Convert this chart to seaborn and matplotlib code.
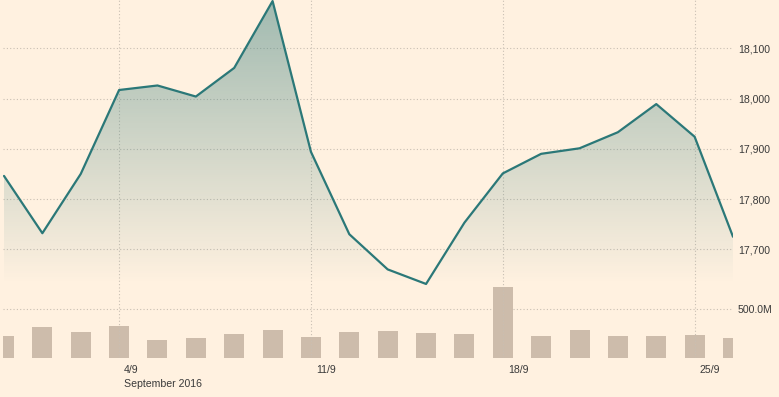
import numpy as np
import matplotlib
matplotlib.use("Agg")
import matplotlib.pyplot as plt
import seaborn as sns
from matplotlib.transforms import ScaledTranslation
from matplotlib.ticker import FixedLocator, FixedFormatter

# ---- data ----
days = list(range(20))
price = [17846, 17732, 17850, 18017, 18026, 18004, 18061, 18194, 17894, 17730,
         17660, 17631, 17753, 17851, 17890, 17901, 17933, 17989, 17924, 17725]
volume_m = [224, 317, 266, 327, 183, 204, 245, 286, 214, 266,
            276, 255, 245, 730, 224, 286, 224, 224, 234, 204]
tick_pos = [3, 8, 13, 18]
tick_labels = ["4/9", "11/9", "18/9", "25/9"]
month_label = "September 2016"
price_ticks = [17700, 17800, 17900, 18000, 18100]
vol_ticks = [500]
vol_tick_labels = ["500.0M"]

# ---- style ----
BG = "#fff1e0"
LINE = "#2b7878"
BAR = "#cdbcab"
GRID = "#c9bfb3"
TEXT = "#3a3a3a"

sns.set_style("white")
plt.rcParams["font.family"] = ["Liberation Sans", "DejaVu Sans"]
plt.rcParams["font.size"] = 7.6

W, H = 779, 397
fig = plt.figure(figsize=(W / 100, H / 100), dpi=100, facecolor=BG)
left_px, right_px, bottom_px = 3.0, 733.0, 357.7
ax = fig.add_axes([left_px / W, (H - bottom_px) / H, (right_px - left_px) / W, bottom_px / H])
ax2 = ax.twinx()
ax.set_zorder(2)
ax2.set_zorder(1)
ax.patch.set_visible(False)
ax2.patch.set_visible(False)

# volume bars
sns.barplot(x=days, y=volume_m, ax=ax2, color=BAR, width=0.52, saturation=1,
            edgecolor="none", linewidth=0, zorder=2)

# price line
sns.lineplot(x=days, y=price, ax=ax, color=LINE, linewidth=1.6, zorder=4)

# limits
xscale = (right_px - 4.0) / 19.0
ax.set_xlim(-(4.0 - left_px) / xscale, 19)
slope = 400.0 / (249.3 - 48.3)
ymin = 17700 - (bottom_px - 249.3) * slope
ymax = 17700 + 249.3 * slope
ax.set_ylim(ymin, ymax)
ax2.set_ylim(0, bottom_px * (500.0 / (bottom_px - 309.3)))

# gradient fill under the line
pmin = min(price)
poly = ax.fill_between(days, price, pmin, facecolor="none", edgecolor="none")
grad = np.linspace(0, 1, 256).reshape(-1, 1)
rgba = np.zeros((256, 1, 4))
rgba[..., 0] = 0.29
rgba[..., 1] = 0.53
rgba[..., 2] = 0.52
rgba[..., 3] = 0.52 * grad[:, 0:1]
im = ax.imshow(rgba, extent=[0, 19, pmin, ymax], origin="lower", aspect="auto",
               zorder=3, interpolation="bilinear")
path = poly.get_paths()[0]
im.set_clip_path(path, transform=ax.transData)
ax.set_xlim(-(4.0 - left_px) / xscale, 19)
ax.set_ylim(ymin, ymax)

# spines off
for a in (ax, ax2):
    for s in a.spines.values():
        s.set_visible(False)

# y ticks (right)
ax.yaxis.tick_right()
ax.yaxis.set_major_locator(FixedLocator(price_ticks))
ax.set_yticklabels([f"{v:,}" for v in price_ticks])
ax.tick_params(axis="y", length=0, pad=3.4, colors=TEXT, labelsize=7.6)
ax2.yaxis.set_major_locator(FixedLocator(vol_ticks))
ax2.set_yticklabels(vol_tick_labels)
ax2.tick_params(axis="y", length=0, pad=3.4, colors=TEXT, labelsize=7.6)
ax.set_ylabel("")
ax2.set_ylabel("")

# x ticks
ax.xaxis.set_major_locator(FixedLocator(tick_pos))
ax.xaxis.set_major_formatter(FixedFormatter(tick_labels))
ax.tick_params(axis="x", length=4.6, width=0.9, color="#bfb5aa", pad=0.3,
               labelcolor=TEXT, labelsize=7.6)
off = ScaledTranslation(5.0 / 100, 0, fig.dpi_scale_trans)
for lab in ax.get_xticklabels():
    lab.set_ha("left")
    lab.set_transform(lab.get_transform() + off)
ax.set_xlabel("")

ax.annotate(month_label, xy=(tick_pos[0], 0), xycoords=("data", "axes fraction"),
            xytext=(4.7, -26.3), textcoords="offset pixels", ha="left", va="center",
            color=TEXT, fontsize=7.6)

# grids
ax.grid(True, axis="both", linestyle=(0, (1, 2)), color=GRID, linewidth=0.8)
ax2.grid(True, axis="y", linestyle=(0, (1, 2)), color=GRID, linewidth=0.8)
ax2.grid(False, axis="x")
ax.set_axisbelow(True)
ax2.set_axisbelow(True)

fig.savefig("out.png", dpi=100, facecolor=BG)
